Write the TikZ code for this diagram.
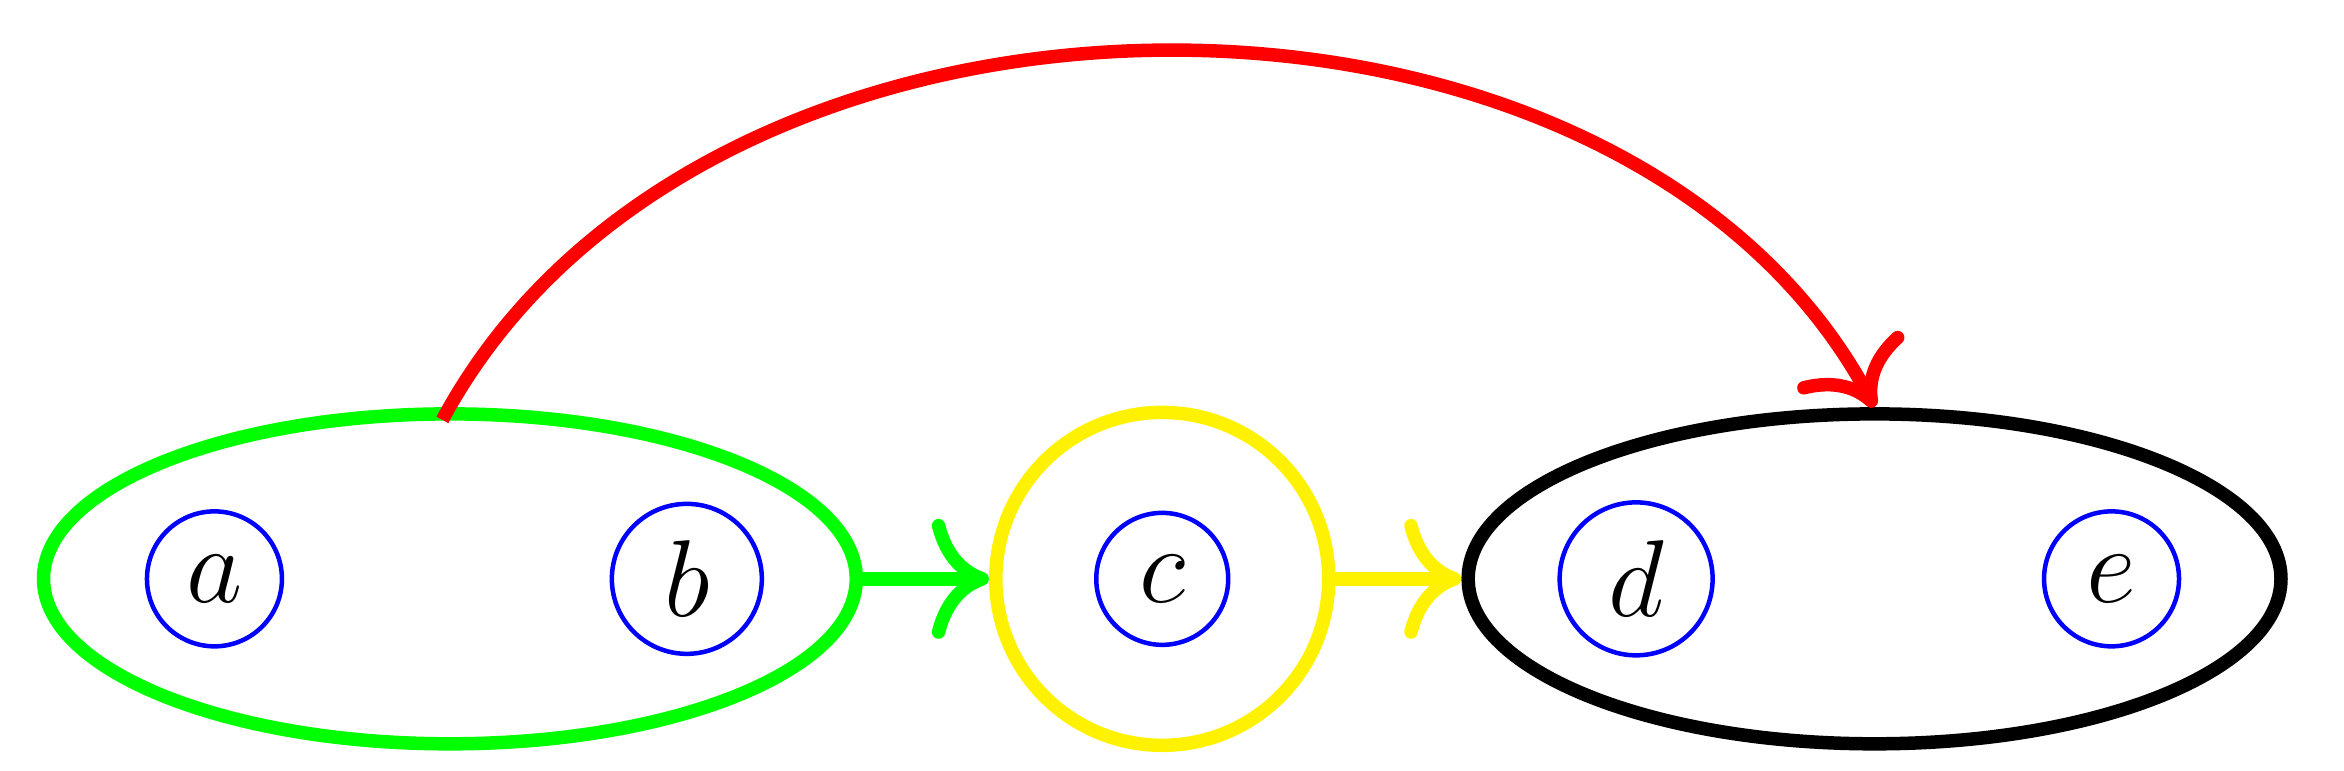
\documentclass[tikz,border=0pt]{standalone}
\usetikzlibrary{shapes.geometric,arrows.meta}
\begin{document}
\begin{tikzpicture}[
  grp/.style={draw,ellipse,line width=0.09cm,minimum width=5.42cm,minimum height=2.2cm,inner sep=0pt},
  inn/.style={draw=blue,circle,line width=0.03cm,inner sep=0pt,font=\fontsize{21}{25}\selectfont},
  conn/.style={line width=0.09cm,-{To[scale=1.5]}}
]
\useasboundingbox (0,2.57) rectangle (15.63,7.71);
\node[grp,draw=green] (g) at (3.00,3.85) {};
\node[grp,draw=black] (k) at (12.50,3.85) {};
\node[draw=yellow,circle,line width=0.09cm,minimum size=2.22cm,inner sep=0pt] (y) at (7.75,3.85) {};
\node[inn,minimum size=0.9cm] (a) at (1.43,3.85) {$a$};
\node[inn,minimum size=1.0cm] (b) at (4.58,3.85) {$b$};
\node[inn,minimum size=0.88cm] (c) at (7.75,3.85) {$c$};
\node[inn,minimum size=1.02cm] (d) at (10.91,3.85) {$d$};
\node[inn,minimum size=0.9cm] (e) at (14.08,3.85) {$e$};
\draw[conn,green] (g.east) -- (y.west);
\draw[conn,yellow] (y.east) -- (k.west);
\coordinate (s) at (2.95,4.91);
\draw[conn,red] (s) .. controls (4.70,8.17) and (10.80,8.17) .. (k.north);
\end{tikzpicture}
\end{document}
